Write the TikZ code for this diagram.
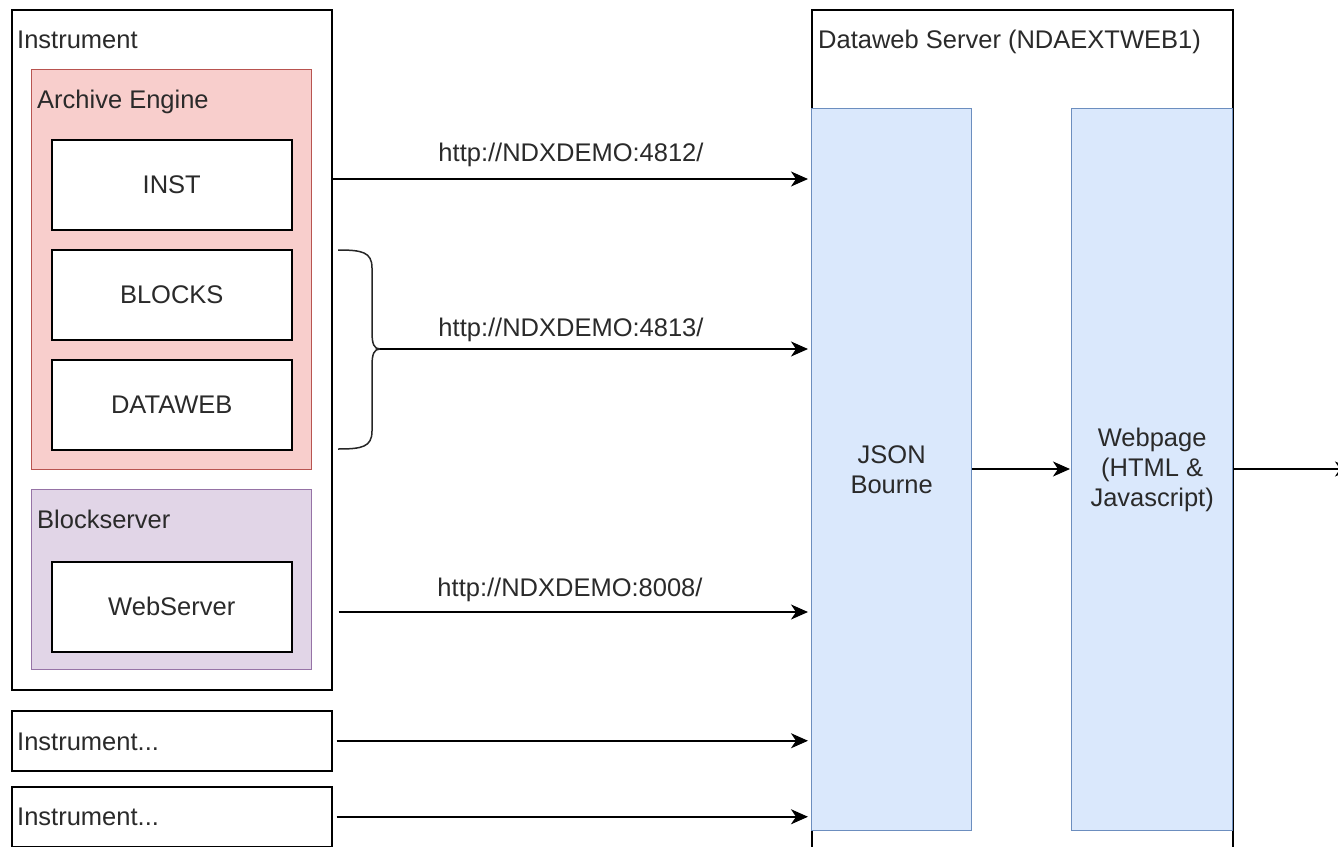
\documentclass[tikz,border=0pt]{standalone}
\usepackage{fontspec}
\setmainfont{Liberation Sans}
\usetikzlibrary{arrows.meta}
\definecolor{pinkfill}{HTML}{F8CECC}
\definecolor{pinkline}{HTML}{B85450}
\definecolor{purpfill}{HTML}{E1D5E7}
\definecolor{purpline}{HTML}{9673A6}
\definecolor{bluefill}{HTML}{DAE8FC}
\definecolor{blueline}{HTML}{6C8EBF}
\definecolor{txt}{HTML}{2A2A2A}
\tikzset{
  box/.style={draw=black, line width=1.5pt, fill=white, inner sep=0pt, text=txt},
  pinkbox/.style={draw=pinkline, fill=pinkfill, line width=1.3pt, inner sep=0pt},
  purpbox/.style={draw=purpline, fill=purpfill, line width=1.3pt, inner sep=0pt},
  bluebox/.style={draw=blueline, fill=bluefill, line width=1.3pt, inner sep=0pt, text=txt, align=center},
  lbl/.style={anchor=base west, inner sep=0pt, text=txt},
  urllbl/.style={inner sep=0pt, text=txt},
  arr/.style={line width=1.5pt, -{Stealth[length=17pt,width=15pt,inset=5pt]}},
}
\begin{document}
\begin{tikzpicture}[x=1pt,y=-1pt,font=\fontsize{25.5}{30}\selectfont]
\useasboundingbox (0,0) rectangle (1338,846);
% server frame (extends past bottom edge)
\node[box, minimum width=421pt, minimum height=860pt, anchor=north west] (server) at (811,9) {};
\node[lbl] (serverlbl) at (818,48) {Dataweb Server (NDAEXTWEB1)};
\node[bluebox, minimum width=160pt, minimum height=722pt, anchor=north west] (json) at (811,108) {JSON\\Bourne};
\node[bluebox, minimum width=161pt, minimum height=722pt, anchor=north west] (web) at (1071,108) {Webpage\\(HTML \&\\Javascript)};
% instrument
\node[box, minimum width=320pt, minimum height=680pt, anchor=north west] (instr) at (11,9) {};
\node[lbl] (instrlbl) at (17,48) {Instrument};
\node[pinkbox, minimum width=280pt, minimum height=400pt, anchor=north west] (archive) at (31,69) {};
\node[lbl] (archlbl) at (37,108) {Archive Engine};
\node[box, minimum width=240pt, minimum height=90pt, anchor=north west] (inst) at (51,139) {INST};
\node[box, minimum width=240pt, minimum height=90pt, anchor=north west] (blocks) at (51,249) {BLOCKS};
\node[box, minimum width=240pt, minimum height=90pt, anchor=north west] (dataweb) at (51,359) {DATAWEB};
\node[purpbox, minimum width=280pt, minimum height=180pt, anchor=north west] (blocksrv) at (31,489) {};
\node[lbl] (bslbl) at (37,528) {Blockserver};
\node[box, minimum width=240pt, minimum height=90pt, anchor=north west] (websrv) at (51,561) {WebServer};
\node[box, minimum width=320pt, minimum height=60pt, anchor=north west] (instr2) at (11,710) {};
\node[lbl] (i2lbl) at (17,750) {Instrument...};
\node[box, minimum width=320pt, minimum height=60pt, anchor=north west] (instr3) at (11,786) {};
\node[lbl] (i3lbl) at (17,825) {Instrument...};
% brace
\draw[line width=1.5pt, draw=black!85] (338,250) .. controls (362,250) and (372,252) .. (372,268) -- (372,332)
  .. controls (372,344) and (374,349) .. (380,349)
  .. controls (374,349) and (372,354) .. (372,366) -- (372,431)
  .. controls (372,447) and (362,449) .. (338,449);
\coordinate (bracetip) at (380,349);
\coordinate (outright) at (1352,469);
% connectors
\draw[arr] (instr.east |- 0,179) -- ([xshift=-3pt]json.west |- 0,179);
\draw[arr] (bracetip) -- ([xshift=-3pt]json.west |- bracetip);
\draw[arr] ([xshift=6pt]instr.east |- 0,612) -- ([xshift=-3pt]json.west |- 0,612);
\draw[arr] ([xshift=4pt]instr2.east) -- ([xshift=-3pt]json.west |- instr2.east);
\draw[arr] ([xshift=4pt]instr3.east) -- ([xshift=-3pt]json.west |- instr3.east);
\draw[arr] (json.east |- 0,469) -- ([xshift=-1pt]web.west |- 0,469);
\draw[arr] (web.east |- 0,469) -- (outright);
% url labels
\node[urllbl] (u1) at (571,155) {http://NDXDEMO:4812/};
\node[urllbl] (u2) at (571,330) {http://NDXDEMO:4813/};
\node[urllbl] (u3) at (570,590) {http://NDXDEMO:8008/};
\end{tikzpicture}
\end{document}
